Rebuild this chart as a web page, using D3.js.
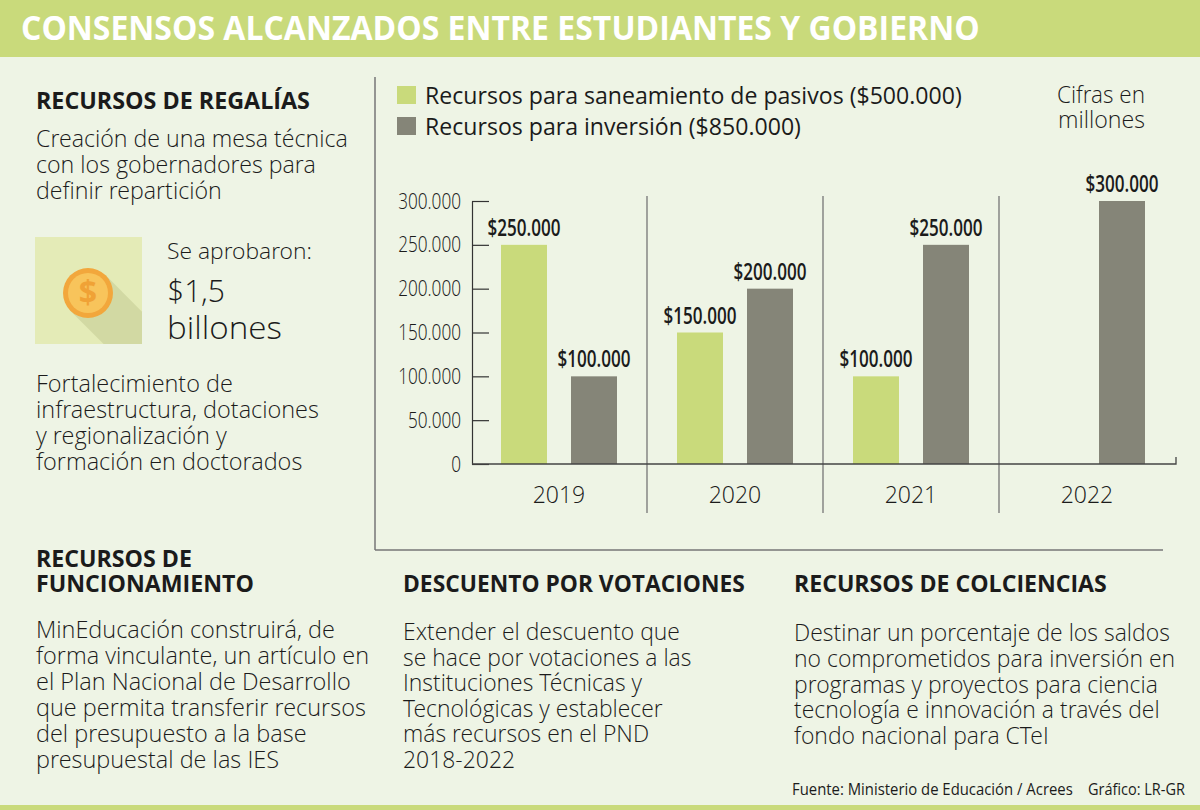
<!DOCTYPE html>
<html>
<head>
<meta charset="utf-8">
<script src="https://cdn.jsdelivr.net/npm/d3@7"></script>
<style>
  html, body { margin: 0; padding: 0; background: #eef4e5; }
  svg { display: block; }
  text { font-family: "Open Sans", "Noto Sans", sans-serif; fill: #1b1b1b; }
  text.light { font-family: "Open Sans Light", "Open Sans", "Noto Sans", sans-serif; }
</style>
</head>
<body>
<svg id="chart" width="1200" height="810"></svg>
<script>
// ---------- DATA ----------
const years = ["2019", "2020", "2021", "2022"];
const seriesNames = ["Recursos para saneamiento de pasivos ($500.000)", "Recursos para inversión ($850.000)"];
const saneamiento = [250000, 150000, 100000, null];
const inversion = [100000, 200000, 250000, 300000];
const yTicks = [0, 50000, 100000, 150000, 200000, 250000, 300000];

const titleText = "CONSENSOS ALCANZADOS ENTRE ESTUDIANTES Y GOBIERNO";
const regaliasHead = ["RECURSOS DE REGALÍAS"];
const regaliasBody = ["Creación de una mesa técnica", "con los gobernadores para", "definir repartición"];
const aprobaron = ["Se aprobaron:"];
const monto = ["$1,5", "billones"];
const regaliasBody2 = ["Fortalecimiento de", "infraestructura, dotaciones", "y regionalización y", "formación en doctorados"];
const funcHead = ["RECURSOS DE", "FUNCIONAMIENTO"];
const funcBody = ["MinEducación construirá, de", "forma vinculante, un artículo en", "el Plan Nacional de Desarrollo", "que permita transferir recursos", "del presupuesto a la base", "presupuestal de las IES"];
const votHead = ["DESCUENTO POR VOTACIONES"];
const votBody = ["Extender el descuento que", "se hace por votaciones a las", "Instituciones Técnicas y", "Tecnológicas y establecer", "más recursos en el PND", "2018-2022"];
const colHead = ["RECURSOS DE COLCIENCIAS"];
const colBody = ["Destinar un porcentaje de los saldos", "no comprometidos para inversión en", "programas y proyectos para ciencia", "tecnología e innovación a través del", "fondo nacional para CTeI"];
const unitsNote = ["Cifras en", "millones"];
const sourceText = "Fuente: Ministerio de Educación / Acrees";
const creditText = "Gráfico: LR-GR";

// ---------- STYLE ----------
const GREEN = "#c9da7b", GRAY = "#858578", BG = "#eef4e5", LINE = "#767676";
const colors = [GREEN, GRAY];
const fmt = v => d3.format(",")(v).replace(/,/g, ".");

const svg = d3.select("#chart");
svg.append("rect").attr("width", 1200).attr("height", 810).attr("fill", BG);

// header and bottom band
svg.append("rect").attr("x", 0).attr("y", 0).attr("width", 1200).attr("height", 57).attr("fill", GREEN);
svg.append("rect").attr("x", 0).attr("y", 805).attr("width", 1200).attr("height", 5).attr("fill", GREEN);

// text block helper: scales block horizontally so first line has target width
function block(x, y0, lines, o) {
  const g = svg.append("g").attr("transform", `translate(${x},0)`);
  const inner = g.append("g");
  lines.forEach((l, i) => {
    inner.append("text").attr("x", 0).attr("y", y0 + i * (o.lh || 0))
      .attr("class", (o.weight || 400) < 400 ? "light" : null)
      .attr("font-size", o.size).attr("font-weight", o.weight || 400)
      .style("fill", o.fill || "#1b1b1b").text(l);
  });
  if (o.width) {
    const w = inner.select("text").node().getComputedTextLength();
    inner.attr("transform", `scale(${o.width / w},1)`);
  }
  return g;
}

block(21, 40, [titleText], { size: 34, weight: 700, width: 959, fill: "#ffffff" });

block(36, 109, regaliasHead, { size: 24, weight: 700, width: 274 });
block(36, 147, regaliasBody, { size: 24, weight: 300, lh: 26, width: 312 });

// coin icon
const coin = svg.append("g");
coin.append("rect").attr("x", 35).attr("y", 237).attr("width", 107).attr("height", 107).attr("fill", "#e4ebb7");
const cx = 88, cy = 293, r = 25, s = r / Math.SQRT2;
coin.append("path").attr("fill", "#d2d9a3")
  .attr("d", `M${cx + s},${cy - s} L142,${cy - s + (142 - cx - s)} L142,344 L${cx - s + (344 - cy - s)},344 L${cx - s},${cy + s} Z`);
coin.append("circle").attr("cx", cx).attr("cy", cy).attr("r", r).attr("fill", "#f2a73c");
coin.append("circle").attr("cx", cx).attr("cy", cy).attr("r", 20).attr("fill", "#f8c45b");
coin.append("text").attr("x", cx).attr("y", cy + 11).attr("text-anchor", "middle")
  .attr("font-size", 32).attr("font-weight", 700).style("fill", "#f0a236").text("$");

block(167, 259, aprobaron, { size: 22, weight: 300, width: 145 });
block(167, 302, [monto[0]], { size: 32, weight: 300, width: 58 });
block(167, 339, [monto[1]], { size: 32, weight: 300, width: 115 });
block(36, 392, regaliasBody2, { size: 24, weight: 300, lh: 26, width: 197 });

block(36, 567, funcHead, { size: 24, weight: 700, lh: 25, width: 156 });
block(36, 638, funcBody, { size: 24, weight: 300, lh: 26, width: 299 });
block(403, 592, votHead, { size: 24, weight: 700, width: 342 });
block(403, 640, votBody, { size: 24, weight: 300, lh: 25.6, width: 277 });
block(794, 592, colHead, { size: 24, weight: 700, width: 313 });
block(794, 641, colBody, { size: 24, weight: 300, lh: 25.8, width: 376 });

block(792, 795, [sourceText], { size: 16, weight: 400, width: 281 });
block(1088, 795, [creditText], { size: 16, weight: 400, width: 97 });

// chart frame
svg.append("line").attr("x1", 375).attr("x2", 375).attr("y1", 77).attr("y2", 550).attr("stroke", LINE).attr("stroke-width", 1.5);
svg.append("line").attr("x1", 375).attr("x2", 1163).attr("y1", 550).attr("y2", 550).attr("stroke", LINE).attr("stroke-width", 1.5);

// legend
seriesNames.forEach((n, i) => {
  svg.append("rect").attr("x", 397).attr("y", 86 + i * 31).attr("width", 19).attr("height", 18).attr("fill", colors[i]);
});
block(425, 104, [seriesNames[0]], { size: 24, weight: 400, width: 537 });
block(425, 135, [seriesNames[1]], { size: 24, weight: 400, width: 376 });
block(1057, 103, [unitsNote[0]], { size: 23, weight: 300, width: 88 });
block(1058, 128, [unitsNote[1]], { size: 23, weight: 300, width: 87 });

// scales
const x0 = d3.scaleBand().domain(years).range([471, 1175]).paddingInner(0).paddingOuter(0);
const x1 = d3.scaleBand().domain([0, 1]).range([0, x0.bandwidth()]).paddingInner(24 / 70).paddingOuter(30 / 70);
const y = d3.scaleLinear().domain([0, 300000]).range([464, 201]);

// y axis
const yAxis = svg.append("g").attr("transform", "translate(472,0)")
  .call(d3.axisLeft(y).tickValues(yTicks).tickFormat(fmt).tickSizeInner(-17).tickSizeOuter(0).tickPadding(11));
yAxis.select(".domain").attr("stroke", "#333").attr("stroke-width", 1.2);
yAxis.selectAll(".tick line").attr("stroke", "#333").attr("stroke-width", 1.2);
yAxis.selectAll(".tick text")
  .attr("class", "light")
  .attr("font-size", 22).attr("font-weight", 300)
  .style("fill", "#1b1b1b")
  .attr("transform", "scale(0.78,1)").attr("x", -11 / 0.78);

// group dividers
years.slice(1).forEach(yr => {
  svg.append("line").attr("x1", x0(yr)).attr("x2", x0(yr)).attr("y1", 196).attr("y2", 513)
    .attr("stroke", LINE).attr("stroke-width", 1.3);
});

// bars
const rows = [];
years.forEach((yr, i) => {
  [saneamiento[i], inversion[i]].forEach((v, s) => { if (v != null) rows.push({ yr, s, v }); });
});
svg.append("g").selectAll("rect").data(rows).join("rect")
  .attr("x", d => x0(d.yr) + x1(d.s)).attr("width", x1.bandwidth())
  .attr("y", d => y(d.v)).attr("height", d => y(0) - y(d.v))
  .attr("fill", d => colors[d.s]);

// baseline
svg.append("path").attr("fill", "none").attr("stroke", "#444").attr("stroke-width", 1.3)
  .attr("d", `M472,${y(0)} H1176 V${y(0) - 7}`);

// value labels
svg.append("g").selectAll("text").data(rows).join("text")
  .attr("x", d => x0(d.yr) + x1(d.s) + x1.bandwidth() / 2)
  .attr("y", d => y(d.v) - 9)
  .attr("text-anchor", "middle")
  .attr("font-size", 23).attr("font-weight", 600)
  .attr("textLength", 73).attr("lengthAdjust", "spacingAndGlyphs")
  .text(d => "$" + fmt(d.v));

// year labels
svg.append("g").selectAll("text").data(years).join("text")
  .attr("class", "light")
  .attr("x", d => x0(d) + x0.bandwidth() / 2).attr("y", 503)
  .attr("text-anchor", "middle").attr("font-size", 23).attr("font-weight", 300)
  .text(d => d);
</script>
</body>
</html>
